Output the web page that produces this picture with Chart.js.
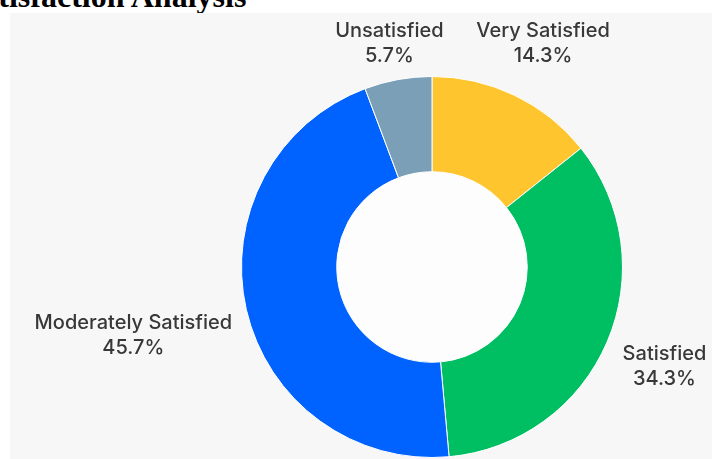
<!DOCTYPE html>
<html>
<head>
<meta charset="utf-8">
<script src="https://cdn.jsdelivr.net/npm/chart.js@4.4.1/dist/chart.umd.min.js"></script>
<style>
  html, body { margin: 0; padding: 0; background: #ffffff; overflow: hidden; }
  body { width: 712px; height: 459px; position: relative; }
  #title {
    position: absolute; left: -178px; top: -22px; margin: 0;
    font-family: "Liberation Serif", "Times New Roman", serif;
    font-size: 32px; font-weight: bold; white-space: nowrap; color: #000;
  }
  #panel {
    position: absolute; left: 10px; top: 13px; width: 702px; height: 446px;
    background: #f7f7f7;
  }
</style>
</head>
<body>
<h1 id="title">Customer Satisfaction Analysis</h1>
<div id="panel"><canvas id="satChart"></canvas></div>
<script>
// Survey answers (counts), drawn clockwise from 12 o'clock
const categories = ['Very Satisfied', 'Satisfied', 'Moderately Satisfied', 'Unsatisfied'];
const responses = [5, 12, 16, 2];
const sliceColors = ['#ffc52e', '#00bf63', '#0062ff', '#7a9fb7'];

// Light fill inside the doughnut hole
const holeFill = {
    id: 'holeFill',
    beforeDatasetsDraw(chart) {
        const arc = chart.getDatasetMeta(0).data[0];
        if (!arc) return;
        const p = arc.getProps(['x', 'y', 'innerRadius'], true);
        const ctx = chart.ctx;
        ctx.save();
        ctx.fillStyle = '#fdfdfd';
        ctx.beginPath();
        ctx.arc(p.x, p.y, p.innerRadius, 0, Math.PI * 2);
        ctx.fill();
        ctx.restore();
    }
};

// Draws "label / percent" outside each slice, along its middle angle
const outsideLabels = {
    id: 'outsideLabels',
    afterDatasetsDraw(chart) {
        const ctx = chart.ctx;
        const meta = chart.getDatasetMeta(0);
        const total = responses.reduce((a, b) => a + b, 0);
        const lineH = 25;
        const gap = 14;
        ctx.save();
        ctx.font = '500 20px Inter, "Noto Sans", sans-serif';
        ctx.fillStyle = '#383838';
        ctx.textAlign = 'center';
        ctx.textBaseline = 'middle';
        meta.data.forEach((arc, i) => {
            const p = arc.getProps(['x', 'y', 'startAngle', 'endAngle', 'outerRadius'], true);
            const mid = (p.startAngle + p.endAngle) / 2;
            const c = Math.cos(mid), s = Math.sin(mid);
            const lines = [categories[i], (responses[i] / total * 100).toFixed(1) + '%'];
            const w = Math.max(...lines.map(t => ctx.measureText(t).width));
            const h = lineH * lines.length;
            const d = p.outerRadius + gap + Math.abs(c) * w / 2 + Math.abs(s) * h / 2;
            let cx = p.x + c * d;
            let cy = p.y + s * d;
            cx = Math.min(Math.max(cx, w / 2 + 4), chart.width - w / 2 - 4);
            cy = Math.min(Math.max(cy, h / 2 + 5), chart.height - h / 2 - 5);
            lines.forEach((t, k) => {
                ctx.fillText(t, cx, cy - h / 2 + lineH * (k + 0.5));
            });
        });
        ctx.restore();
    }
};

const ctx = document.getElementById('satChart').getContext('2d');
window.myChart = new Chart(ctx, {
    type: 'doughnut',
    data: {
        labels: categories,
        datasets: [{
            data: responses,
            backgroundColor: sliceColors,
            borderColor: '#ffffff',
            borderWidth: 1
        }]
    },
    options: {
        responsive: true,
        maintainAspectRatio: false,
        animation: false,
        cutout: '50%',
        layout: { padding: { left: 231, right: 89, top: 63, bottom: 1 } },
        plugins: {
            legend: { display: false },
            tooltip: { enabled: false }
        }
    },
    plugins: [holeFill, outsideLabels]
});
</script>
</body>
</html>
